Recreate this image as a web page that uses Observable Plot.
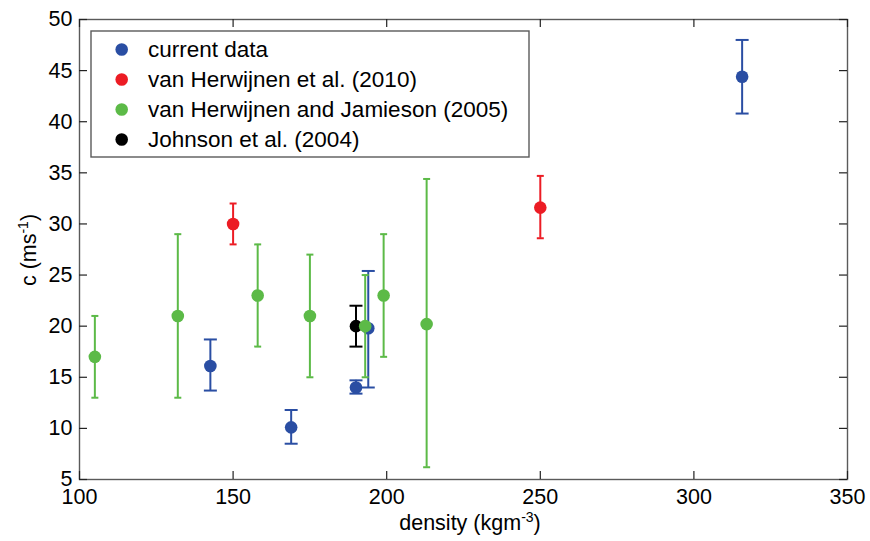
<!DOCTYPE html>
<html>
<head>
<meta charset="utf-8">
<script src="https://cdn.jsdelivr.net/npm/d3@7"></script>
<script src="https://cdn.jsdelivr.net/npm/@observablehq/plot@0.6"></script>
<style>
  html, body { margin: 0; padding: 0; background: #fff; }
  #chart { position: relative; width: 870px; height: 541px; }
</style>
</head>
<body>
<div id="chart"></div>
<script>
// ---- data ----
const seriesNames = [
  "current data",
  "van Herwijnen et al. (2010)",
  "van Herwijnen and Jamieson (2005)",
  "Johnson et al. (2004)"
];
const seriesColors = ["#2a4ea3", "#ec1c24", "#5cba47", "#000000"];

const currentDensity = [142.6, 168.9, 190, 194, 315.7];
const currentC       = [16.1, 10.1, 14.0, 19.8, 44.4];
const currentLo      = [13.7, 8.5, 13.4, 14.0, 40.8];
const currentHi      = [18.7, 11.8, 14.7, 25.4, 48.0];

const vh2010Density = [150, 250];
const vh2010C       = [30.0, 31.6];
const vh2010Lo      = [28.0, 28.6];
const vh2010Hi      = [32.0, 34.7];

const vhj2005Density = [105, 132, 158, 175, 193, 199, 213];
const vhj2005C       = [17, 21, 23, 21, 20, 23, 20.2];
const vhj2005Lo      = [13, 13, 18, 15, 15, 17, 6.2];
const vhj2005Hi      = [21, 29, 28, 27, 25, 29, 34.4];

const johnsonDensity = [190];
const johnsonC       = [20];
const johnsonLo      = [18];
const johnsonHi      = [22];

const xTicks = [100, 150, 200, 250, 300, 350];
const yTicks = [5, 10, 15, 20, 25, 30, 35, 40, 45, 50];

// ---- build tables ----
function table(series, xs, cs, lo, hi) {
  return xs.map((x, i) => ({series, x, c: cs[i], lo: lo[i], hi: hi[i]}));
}
const current = table(0, currentDensity, currentC, currentLo, currentHi);
const vh2010  = table(1, vh2010Density, vh2010C, vh2010Lo, vh2010Hi);
const vhj2005 = table(2, vhj2005Density, vhj2005C, vhj2005Lo, vhj2005Hi);
const johnson = table(3, johnsonDensity, johnsonC, johnsonLo, johnsonHi);

function capSymbol(half) {
  return { draw(ctx) { ctx.moveTo(-half, 0); ctx.lineTo(half, 0); } };
}

function errorMarks(data, color, half) {
  const cap = capSymbol(half);
  return [
    Plot.ruleX(data, {x: "x", y1: "lo", y2: "hi", stroke: color, strokeWidth: 2}),
    Plot.dot(data, {x: "x", y: "lo", symbol: cap, r: 1, stroke: color, strokeWidth: 2, fill: "none"}),
    Plot.dot(data, {x: "x", y: "hi", symbol: cap, r: 1, stroke: color, strokeWidth: 2, fill: "none"}),
    Plot.dot(data, {x: "x", y: "c", r: 6.3, fill: color, stroke: "none"})
  ];
}

const W = 870, H = 541;
const mL = 79, mR = 23, mT = 19, mB = 62;
const innerW = W - mL - mR, innerH = H - mT - mB;
const tickLen = 8;
const font = "'Liberation Sans', Arial, Helvetica, sans-serif";
const fs = 21.5;

const plot = Plot.plot({
  width: W,
  height: H,
  marginLeft: mL,
  marginRight: mR,
  marginTop: mT,
  marginBottom: mB,
  style: {fontFamily: font, fontSize: fs + "px", color: "#000", background: "#fff", overflow: "visible"},
  x: {domain: [100, 350]},
  y: {domain: [5, 50]},
  marks: [
    ...errorMarks(current, seriesColors[0], 6.5),
    ...errorMarks(vh2010, seriesColors[1], 3.5),
    ...errorMarks(johnson, seriesColors[3], 6.5),
    ...errorMarks(vhj2005, seriesColors[2], 3.5),
    Plot.frame({stroke: "#5a5a5a", strokeWidth: 1.4}),
    Plot.tickX(xTicks, {x: d => d, insetTop: innerH - tickLen, stroke: "#222", strokeWidth: 1.2}),
    Plot.tickX(xTicks, {x: d => d, insetBottom: innerH - tickLen, stroke: "#222", strokeWidth: 1.2}),
    Plot.tickY(yTicks, {y: d => d, insetRight: innerW - tickLen, stroke: "#222", strokeWidth: 1.2}),
    Plot.tickY(yTicks, {y: d => d, insetLeft: innerW - tickLen, stroke: "#222", strokeWidth: 1.2}),
    Plot.axisX({ticks: xTicks, tickSize: 0, tickPadding: 9, label: null, fontSize: fs}),
    Plot.axisY({ticks: yTicks, tickSize: 0, tickPadding: 7, label: null, fontSize: fs})
  ]
});

document.getElementById("chart").appendChild(plot);

// ---- axis labels with superscripts ----
const svg = d3.select(plot);
const yl = svg.append("text")
  .attr("transform", "translate(36,250) rotate(-90)")
  .attr("text-anchor", "middle")
  .attr("font-family", font)
  .attr("font-size", fs)
  .attr("fill", "#000");
yl.append("tspan").text("c (ms");
yl.append("tspan").attr("font-size", 14).attr("dy", -8).text("-1");
yl.append("tspan").attr("dy", 8).text(")");

const xl = svg.append("text")
  .attr("x", 470)
  .attr("y", 530)
  .attr("text-anchor", "middle")
  .attr("font-family", font)
  .attr("font-size", fs)
  .attr("fill", "#000");
xl.append("tspan").text("density (kgm");
xl.append("tspan").attr("font-size", 14).attr("dy", -8).text("-3");
xl.append("tspan").attr("dy", 8).text(")");

// ---- legend ----
const lg = svg.append("g");
lg.append("rect")
  .attr("x", 91).attr("y", 31).attr("width", 438).attr("height", 126)
  .attr("fill", "#fff").attr("stroke", "#5a5a5a").attr("stroke-width", 1.4);
seriesNames.forEach((name, i) => {
  const cy = 49.5 + i * 30;
  lg.append("circle").attr("cx", 121.7).attr("cy", cy).attr("r", 6.3).attr("fill", seriesColors[i]);
  lg.append("text")
    .attr("x", 148).attr("y", cy + 7.5)
    .attr("text-anchor", "start")
    .attr("font-family", font).attr("font-size", 22.5).attr("fill", "#000")
    .text(name);
});
</script>
</body>
</html>
